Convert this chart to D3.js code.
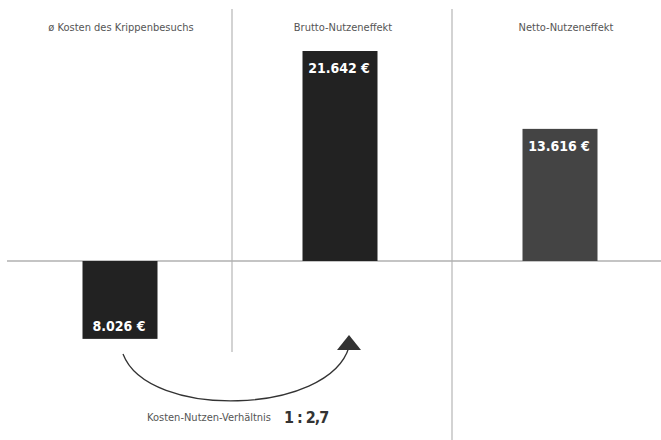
<!DOCTYPE html>
<html><head><meta charset="utf-8">
<script src="https://cdn.jsdelivr.net/npm/d3@7"></script>
<style>html,body{margin:0;padding:0;background:#fff;}svg{display:block;}</style>
</head><body>
<svg id="chart" width="661" height="440"></svg>
<script>
const categories = ["ø Kosten des Krippenbesuchs", "Brutto-Nutzeneffekt", "Netto-Nutzeneffekt"];
const values = [-8026, 21642, 13616];
const valueLabels = ["8.026 €", "21.642 €", "13.616 €"];
const ratioLabel = "Kosten-Nutzen-Verhältnis";
const ratioValue = "1 : 2,7";

const W = 661, H = 440;
const font = "'Liberation Sans Narrow','DejaVu Sans Condensed','Liberation Sans',sans-serif";
const svg = d3.select("#chart");

const x = d3.scaleBand().domain(categories).range([10, 670]).padding(0);
const y = d3.scaleLinear().domain([0, 21642]).range([261, 51]);
const barW = 75;
const colors = ["#222222", "#222222", "#444444"];

// separators
const sepBottom = [352, 440];
categories.slice(1).forEach((c, i) => {
  svg.append("line")
    .attr("x1", x(c) + 2).attr("x2", x(c) + 2)
    .attr("y1", 9).attr("y2", sepBottom[i])
    .attr("stroke", "#c4c4c4").attr("stroke-width", 1.5);
});

// baseline
svg.append("line").attr("x1", 7).attr("x2", W).attr("y1", y(0)).attr("y2", y(0))
  .attr("stroke", "#b0b0b0").attr("stroke-width", 1.5);

// headers
svg.selectAll("text.hdr").data(categories).join("text")
  .attr("class", "hdr")
  .attr("x", (d, i) => x(d) + x.bandwidth() / 2 + [1, 3, 6][i])
  .attr("y", 31)
  .attr("text-anchor", "middle")
  .attr("font-family", font).attr("font-size", 11).attr("fill", "#555")
  .text(d => d);

// bars
svg.selectAll("rect.bar").data(values).join("rect")
  .attr("class", "bar")
  .attr("x", (d, i) => x(categories[i]) + x.bandwidth() / 2 - barW / 2)
  .attr("y", d => Math.min(y(d), y(0)))
  .attr("width", barW)
  .attr("height", d => Math.abs(y(d) - y(0)))
  .attr("fill", (d, i) => colors[i]);

// value labels
svg.selectAll("text.val").data(values).join("text")
  .attr("class", "val")
  .attr("x", (d, i) => x(categories[i]) + x.bandwidth() / 2 - 1)
  .attr("y", d => d >= 0 ? y(d) + 22 : y(d) - 8)
  .attr("text-anchor", "middle")
  .attr("font-family", font).attr("font-weight", "bold").attr("font-size", 14).attr("fill", "#fff")
  .text((d, i) => valueLabels[i]);

// arrow curve
const x0 = x(categories[0]) + x.bandwidth() / 2 + 3;
const x1 = x(categories[1]) + x.bandwidth() / 2 + 9;
const path = d3.path();
path.moveTo(x0, 354);
path.bezierCurveTo(x0 + 25, 420, x1 - 20, 415, x1, 347);
svg.append("path").attr("d", path.toString())
  .attr("fill", "none").attr("stroke", "#333").attr("stroke-width", 1.3);
svg.append("path")
  .attr("d", `M${x1 - 12},350 L${x1 + 12},350 L${x1},335 Z`)
  .attr("fill", "#333");

// ratio text
svg.append("text").attr("x", 147).attr("y", 421)
  .attr("font-family", font).attr("font-size", 11).attr("fill", "#555")
  .text(ratioLabel);
svg.append("text").attr("x", 284).attr("y", 423)
  .attr("font-family", font).attr("font-weight", "bold").attr("font-size", 16)
  .attr("letter-spacing", -1).attr("fill", "#333")
  .text(ratioValue);
</script>
</body></html>
